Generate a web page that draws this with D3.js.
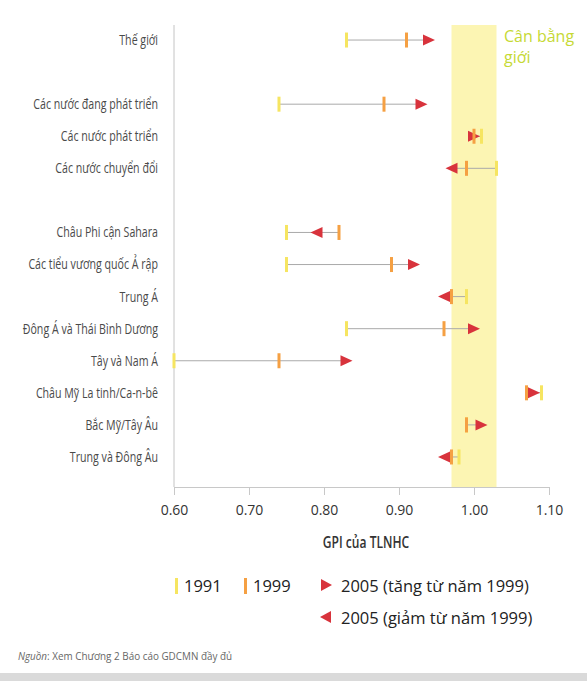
<!DOCTYPE html>
<html>
<head>
<meta charset="utf-8">
<script src="https://cdn.jsdelivr.net/npm/d3@7"></script>
<style>
  html, body { margin: 0; padding: 0; background: #ffffff; }
  svg { display: block; }
</style>
</head>
<body>
<svg id="chart" width="587" height="683"></svg>
<script>
// ---- data ----
const categories = [
  "Thế giới", "",
  "Các nước đang phát triển", "Các nước phát triển", "Các nước chuyển đổi", "",
  "Châu Phi cận Sahara", "Các tiểu vương quốc Ả rập", "Trung Á",
  "Đông Á và Thái Bình Dương", "Tây và Nam Á", "Châu Mỹ La tinh/Ca-n-bê",
  "Bắc Mỹ/Tây Âu", "Trung và Đông Âu"
];
const gpi1991 = [0.83, null, 0.74, 1.01, 1.03, null, 0.75, 0.75, 0.99, 0.83, 0.60, 1.09, 0.99, 0.98];
const gpi1999 = [0.91, null, 0.88, 1.00, 0.99, null, 0.82, 0.89, 0.97, 0.96, 0.74, 1.07, 0.99, 0.97];
const gpi2005 = [0.94, null, 0.93, 1.00, 0.97, null, 0.79, 0.92, 0.96, 1.00, 0.83, 1.08, 1.01, 0.96];
const xTicks = [0.60, 0.70, 0.80, 0.90, 1.00, 1.10];
const parityBand = [0.97, 1.03];
const legendItems = ["1991", "1999", "2005 (tăng từ năm 1999)", "2005 (giảm từ năm 1999)"];

const rows = categories.map((c, i) => ({
  name: c, v91: gpi1991[i], v99: gpi1999[i], v05: gpi2005[i]
}));

// ---- layout ----
const svg = d3.select("#chart");
const sans = "'Open Sans', 'Noto Sans', sans-serif";
const colY91 = "#f6e561", colY99 = "#f5a043", colRed = "#d8333c", colLine = "#aaaaaa";
const squeeze = 0.76;

const x = d3.scaleLinear().domain([0.60, 1.10]).range([174, 549]);
const y = d3.scaleBand().domain(d3.range(categories.length)).range([24, 473]).paddingInner(0).paddingOuter(0);
const yc = i => y(i) + y.bandwidth() / 2;
const axisY = 487;

// parity band
svg.append("rect")
  .attr("x", x(parityBand[0])).attr("y", 25)
  .attr("width", x(parityBand[1]) - x(parityBand[0]))
  .attr("height", axisY - 25)
  .attr("fill", "#fcf5b3");

svg.append("text").attr("x", 504).attr("y", 42)
  .attr("font-family", sans).attr("font-size", 16).attr("fill", "#c6d934")
  .text("Cân bằng");
svg.append("text").attr("x", 504).attr("y", 63)
  .attr("font-family", sans).attr("font-size", 16).attr("fill", "#c6d934")
  .text("giới");

// left vertical axis line
svg.append("line")
  .attr("x1", x(0.60)).attr("x2", x(0.60))
  .attr("y1", 25).attr("y2", axisY)
  .attr("stroke", "#c4c4c4").attr("stroke-width", 1);

// bottom axis
const xAxis = d3.axisBottom(x).tickValues(xTicks).tickFormat(d3.format(".2f")).tickSizeOuter(0).tickSize(8).tickPadding(10);
const gx = svg.append("g").attr("transform", `translate(0,${axisY})`).call(xAxis);
gx.select(".domain").attr("stroke", "#c8c8c8");
gx.selectAll(".tick line").attr("stroke", "#c8c8c8");
gx.selectAll(".tick text").attr("font-family", sans).attr("font-size", 14).attr("fill", "#333");

svg.append("g").attr("transform", `translate(366,548) scale(0.78,1)`)
  .append("text").attr("text-anchor", "middle")
  .attr("font-family", sans).attr("font-size", 15.5).attr("font-weight", 600).attr("fill", "#333")
  .text("GPI  của TLNHC");

// category labels (condensed by horizontal scale)
svg.append("g").attr("transform", `translate(158,0) scale(${squeeze},1)`)
  .selectAll("text").data(rows).join("text")
  .attr("x", 0).attr("y", (d, i) => yc(i)).attr("dy", "0.35em")
  .attr("text-anchor", "end")
  .attr("font-family", sans).attr("font-size", 14).attr("fill", "#4a4a4a")
  .text(d => d.name);

// marks
const data = rows.map((d, i) => ({ ...d, i })).filter(d => d.v91 !== null);
const g = svg.append("g");

g.selectAll("line.conn").data(data).join("line").attr("class", "conn")
  .attr("x1", d => x(Math.min(d.v91, d.v99, d.v05)))
  .attr("x2", d => x(Math.max(d.v91, d.v99, d.v05)))
  .attr("y1", d => yc(d.i)).attr("y2", d => yc(d.i))
  .attr("stroke", colLine).attr("stroke-width", 1);

const arrowPath = (up) => up ? "M-6,-5.5L6,0L-6,5.5Z" : "M6,-5.5L-6,0L6,5.5Z";

g.selectAll("path.arr").data(data).join("path").attr("class", "arr")
  .attr("transform", d => `translate(${x(d.v05)},${yc(d.i)})`)
  .attr("d", d => arrowPath(d.v05 >= d.v99))
  .attr("fill", colRed);

g.selectAll("rect.t91").data(data).join("rect").attr("class", "t91")
  .attr("x", d => x(d.v91) - 1.5).attr("y", d => yc(d.i) - 7.5)
  .attr("width", 3).attr("height", 15).attr("fill", colY91);

g.selectAll("rect.t99").data(data).join("rect").attr("class", "t99")
  .attr("x", d => x(d.v99) - 1.5).attr("y", d => yc(d.i) - 7.5)
  .attr("width", 3).attr("height", 15).attr("fill", colY99);

// legend
const lg = svg.append("g").attr("font-family", sans).attr("font-size", 16.5).attr("fill", "#222");
lg.append("rect").attr("x", 175).attr("y", 578).attr("width", 3).attr("height", 16).attr("fill", colY91);
lg.append("text").attr("x", 184).attr("y", 586).attr("dy", "0.35em").text(legendItems[0]);
lg.append("rect").attr("x", 244).attr("y", 578).attr("width", 3).attr("height", 16).attr("fill", colY99);
lg.append("text").attr("x", 253).attr("y", 586).attr("dy", "0.35em").text(legendItems[1]);
lg.append("path").attr("transform", "translate(326,585)").attr("d", "M-5,-6L6,0L-5,6Z").attr("fill", colRed);
lg.append("text").attr("x", 341).attr("y", 586).attr("dy", "0.35em").text(legendItems[2]);
lg.append("path").attr("transform", "translate(326,617)").attr("d", "M5,-6L-6,0L5,6Z").attr("fill", colRed);
lg.append("text").attr("x", 341).attr("y", 618).attr("dy", "0.35em").text(legendItems[3]);

// source
const src = svg.append("g").attr("transform", "translate(18,660) scale(0.86,1)")
  .append("text").attr("x", 0).attr("y", 0)
  .attr("font-family", sans).attr("font-size", 11.5).attr("fill", "#666");
src.append("tspan").attr("font-style", "italic").text("Nguồn");
src.append("tspan").text(": Xem Chương 2 Báo cáo GDCMN đầy đủ");

// bottom strip
svg.append("rect").attr("x", 0).attr("y", 673).attr("width", 587).attr("height", 8).attr("fill", "#dadada");
</script>
</body>
</html>
